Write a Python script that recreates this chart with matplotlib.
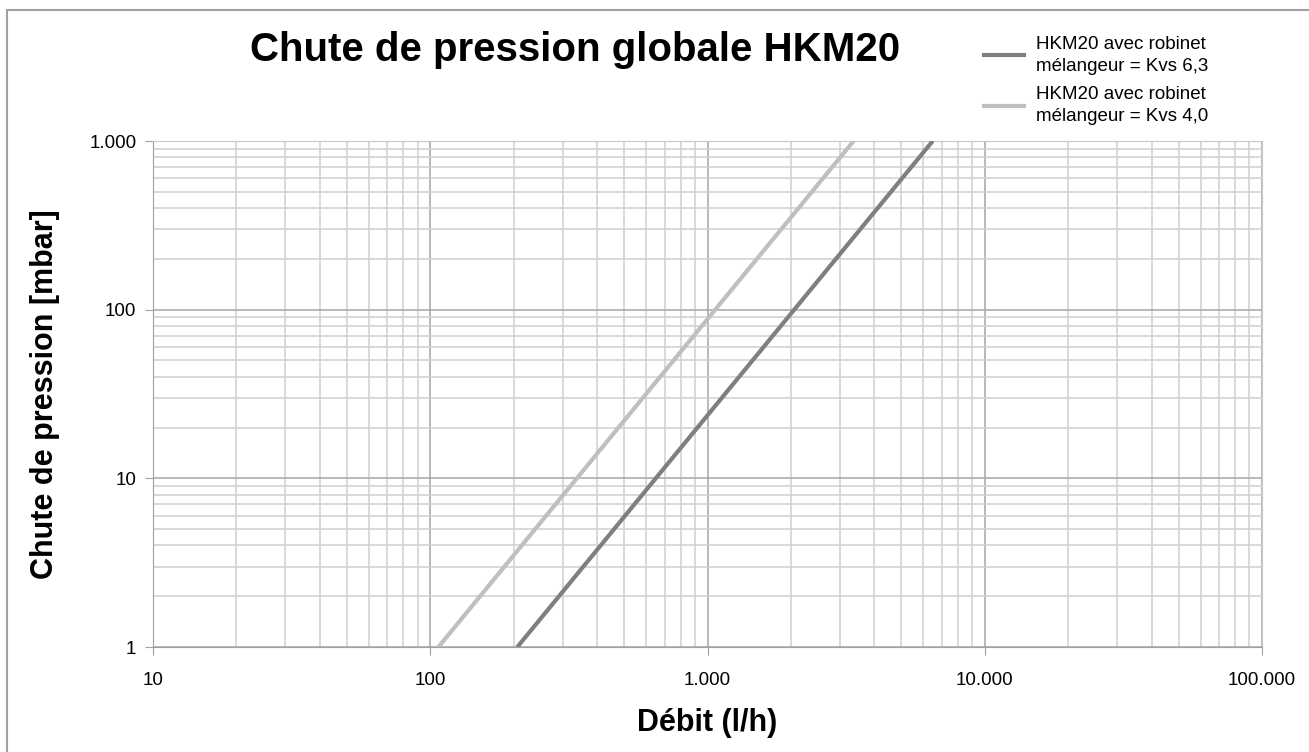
import matplotlib
matplotlib.use("Agg")
import matplotlib.pyplot as plt
from matplotlib.ticker import FuncFormatter, LogLocator, NullFormatter
from matplotlib.lines import Line2D
from matplotlib.patches import Rectangle

plt.rcParams['font.family'] = ['Liberation Sans', 'DejaVu Sans']

# data (endpoints of each straight line on log-log axes)
flow_kvs63 = [206, 6490]
dp_kvs63 = [1, 1000]
flow_kvs40 = [107, 3365]
dp_kvs40 = [1, 1000]

labels = ["HKM20 avec robinet\nmélangeur = Kvs 6,3",
          "HKM20 avec robinet\nmélangeur = Kvs 4,0"]
colors = ["#7f7f7f", "#bfbfbf"]

fig = plt.figure(figsize=(13.09, 7.52), dpi=100)
ax = fig.add_axes([0.1169, 0.1396, 0.8472, 0.6729])

ax.plot(flow_kvs63, dp_kvs63, color=colors[0], lw=3.0, solid_capstyle='butt', zorder=3)
ax.plot(flow_kvs40, dp_kvs40, color=colors[1], lw=3.0, solid_capstyle='butt', zorder=3)

ax.set_xscale('log')
ax.set_yscale('log')
ax.set_xlim(10, 100000)
ax.set_ylim(1, 1000)

def thousands(v, pos):
    return f"{int(round(v)):,}".replace(",", ".")

ax.xaxis.set_major_locator(LogLocator(base=10))
ax.yaxis.set_major_locator(LogLocator(base=10))
ax.xaxis.set_minor_locator(LogLocator(base=10, subs=range(2, 10)))
ax.yaxis.set_minor_locator(LogLocator(base=10, subs=range(2, 10)))
ax.xaxis.set_major_formatter(FuncFormatter(thousands))
ax.yaxis.set_major_formatter(FuncFormatter(thousands))
ax.xaxis.set_minor_formatter(NullFormatter())
ax.yaxis.set_minor_formatter(NullFormatter())

ax.grid(which='major', color='#a6a6a6', lw=1.1, zorder=1)
ax.grid(which='minor', color='#d0d0d0', lw=1.1, zorder=1)
ax.set_axisbelow(True)

ax.tick_params(which='major', length=6, color='#a0a0a0', labelsize=13.5)
ax.tick_params(axis='x', pad=12)
ax.tick_params(axis='y', pad=6)
ax.tick_params(which='minor', length=0)
for s in ax.spines.values():
    s.set_color('#c8c8c8')
ax.spines['left'].set_color('#a0a0a0')
ax.spines['bottom'].set_color('#a0a0a0')

ax.set_xlabel("Débit (l/h)", fontsize=22, fontweight='bold', labelpad=14)
ax.set_ylabel("Chute de pression [mbar]", fontsize=22, fontweight='bold', labelpad=21)

fig.text(0.439, 0.933, "Chute de pression globale HKM20", fontsize=29,
         fontweight='bold', ha='center', va='center')

handles = [Line2D([], [], color=c, lw=3.0) for c in colors]
leg = fig.legend(handles, labels, loc='upper left', bbox_to_anchor=(0.739, 0.975),
                 frameon=False, fontsize=13.5, handlelength=2.1, handletextpad=0.65,
                 labelspacing=0.6)
for t in leg.get_texts():
    t.set_linespacing(1.4)

# outer chart frame
fig.patches.append(Rectangle((7 / 1309, -0.1), 1.2, 1 - 10 / 752 + 0.1,
                             transform=fig.transFigure, fill=False,
                             edgecolor='#a0a0a0', lw=1.5))

fig.savefig("out.png", dpi=100)
